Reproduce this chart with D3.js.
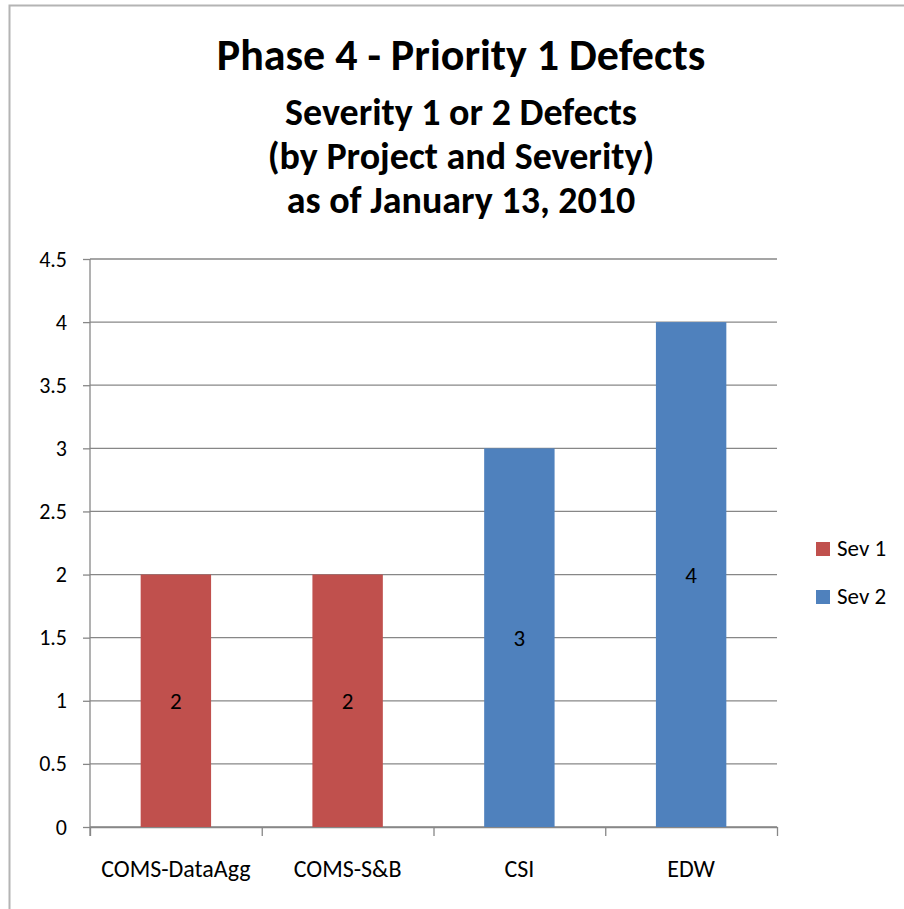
<!DOCTYPE html>
<html>
<head>
<meta charset="utf-8">
<script src="https://cdn.jsdelivr.net/npm/d3@7"></script>
<style>
  body { margin: 0; background: #fff; }
  svg text { font-family: Carlito, Lato, "Open Sans", sans-serif; fill: #000; }
  .axis path, .axis line { stroke: #878787; stroke-width: 1.3; }
</style>
</head>
<body>
<script>
// chart data
const projects = ["COMS-DataAgg", "COMS-S&B", "CSI", "EDW"];
const sev1 = [2, 2, 0, 0];
const sev2 = [0, 0, 3, 4];
const seriesNames = ["Sev 1", "Sev 2"];
const seriesColors = ["#C0504D", "#4F81BD"];
const yTicks = [0, 0.5, 1, 1.5, 2, 2.5, 3, 3.5, 4, 4.5];
const titleLines = ["Phase 4 - Priority 1 Defects", "Severity 1 or 2 Defects",
                    "(by Project and Severity)", "as of January 13, 2010"];

const W = 904, H = 909;
const margin = { top: 259, right: 127, bottom: 82, left: 90 };
const width = W - margin.left - margin.right,
      height = H - margin.top - margin.bottom;

const svg = d3.select("body").append("svg")
    .attr("width", W)
    .attr("height", H);

// outer chart border (cropped at right and bottom)
svg.append("rect")
    .attr("x", 9.5).attr("y", 5.5)
    .attr("width", W + 20).attr("height", H + 20)
    .attr("fill", "none")
    .attr("stroke", "#b4b4b4")
    .attr("stroke-width", 2);

// titles
const titleSizes = [44, 38, 38, 38];
const titleBaselines = [70, 125, 169, 213];
svg.append("g").selectAll("text")
    .data(titleLines)
    .join("text")
    .attr("x", 461)
    .attr("y", (d, i) => titleBaselines[i])
    .attr("text-anchor", "middle")
    .style("font-weight", "bold")
    .style("font-size", (d, i) => titleSizes[i] + "px")
    .text(d => d);

const g = svg.append("g")
    .attr("transform", `translate(${margin.left},${margin.top})`);

// SCALES
const x = d3.scaleBand().domain(projects).range([0, width]).paddingInner(0.59).paddingOuter(0.295);
const xEdges = d3.scaleLinear().domain([0, projects.length]).range([0, width]);
const y = d3.scaleLinear().domain([0, 4.5]).range([height, 0]);

// gridlines
g.append("g").selectAll("line")
    .data(yTicks)
    .join("line")
    .attr("x1", 0).attr("x2", width)
    .attr("y1", d => y(d)).attr("y2", d => y(d))
    .attr("stroke", "#878787")
    .attr("stroke-width", 1.3);

// y axis
const yAxis = g.append("g")
    .attr("class", "axis")
    .call(d3.axisLeft(y).tickValues(yTicks).tickSize(7).tickSizeOuter(0).tickPadding(16)
        .tickFormat(d3.format("")));
yAxis.select(".domain").attr("d", `M0,${height + 9}V0`);
yAxis.selectAll("text").style("font-size", "22px");

// x axis: boundary ticks
const xTickAxis = g.append("g")
    .attr("class", "axis")
    .attr("transform", `translate(0,${height})`)
    .call(d3.axisBottom(xEdges).ticks(projects.length).tickSize(9).tickSizeOuter(0).tickFormat(""));

// x axis: category labels
const xLabelAxis = g.append("g")
    .attr("transform", `translate(0,${height})`)
    .call(d3.axisBottom(x).tickSize(0).tickPadding(33));
xLabelAxis.select(".domain").remove();
xLabelAxis.selectAll("text").style("font-size", "24px");

// stacked bars
const table = projects.map((p, i) => ({ project: p, "Sev 1": sev1[i], "Sev 2": sev2[i] }));
const stacked = d3.stack().keys(seriesNames)(table);

const layer = g.append("g").selectAll("g")
    .data(stacked)
    .join("g")
    .attr("fill", (d, i) => seriesColors[i]);

layer.selectAll("rect")
    .data(d => d)
    .join("rect")
    .attr("x", d => x(d.data.project))
    .attr("width", x.bandwidth())
    .attr("y", d => y(d[1]))
    .attr("height", d => y(d[0]) - y(d[1]));

// data labels
layer.selectAll("text")
    .data(d => d.filter(v => v[1] - v[0] > 0))
    .join("text")
    .attr("x", d => x(d.data.project) + x.bandwidth() / 2)
    .attr("y", d => y((d[0] + d[1]) / 2))
    .attr("dy", "0.35em")
    .attr("text-anchor", "middle")
    .style("font-size", "23px")
    .text(d => d[1] - d[0]);

// legend
const legend = svg.append("g")
    .attr("transform", "translate(816,542)");
const item = legend.selectAll("g")
    .data(seriesNames)
    .join("g")
    .attr("transform", (d, i) => `translate(0,${i * 48})`);
item.append("rect")
    .attr("width", 14).attr("height", 14)
    .attr("fill", (d, i) => seriesColors[i]);
item.append("text")
    .attr("x", 21).attr("y", 14)
    .style("font-size", "23px")
    .text(d => d);
</script>
</body>
</html>
